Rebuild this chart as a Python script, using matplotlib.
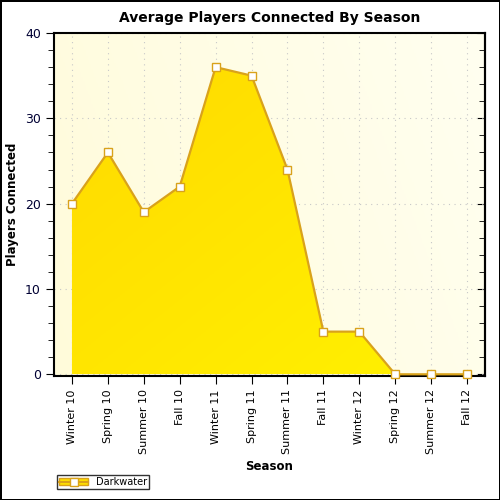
# %% Import modules
import numpy as np
import matplotlib.pyplot as plt
from matplotlib.colors import LinearSegmentedColormap
from matplotlib.lines import Line2D
from matplotlib.patches import Patch

# %% Data
seasons = ['Winter 10', 'Spring 10', 'Summer 10', 'Fall 10',
           'Winter 11', 'Spring 11', 'Summer 11', 'Fall 11',
           'Winter 12', 'Spring 12', 'Summer 12', 'Fall 12']
players = [20, 26, 19, 22, 36, 35, 24, 5, 5, 0, 0, 0]
series_name = 'Darkwater'

# %% Figure
fig = plt.figure(figsize=(5, 5), dpi=100)
fig.patch.set_edgecolor('black')
fig.patch.set_linewidth(2)
ax = fig.add_axes([0.108, 0.248, 0.862, 0.686])

x = np.arange(len(seasons))
ymin = -0.2
ax.set_xlim(-0.5, len(seasons) - 0.5)
ax.set_ylim(ymin, 40)

# background gradient
bg = LinearSegmentedColormap.from_list('bg', ['#FFFBDA', '#FFFFF0'])
grad = np.linspace(0, 1, 256).reshape(1, -1) + np.linspace(0, 0.3, 256).reshape(-1, 1)
ax.imshow(grad, cmap=bg, extent=[-0.5, len(seasons) - 0.5, ymin, 40],
          aspect='auto', zorder=0, origin='lower')

ax.grid(True, color='#C8C8C8', linestyle=(0, (1, 4)), linewidth=0.8, zorder=1)
ax.set_axisbelow(True)

# area fill with gradient
fill = ax.fill_between(x, players, 0, color='none', zorder=2)
fg = LinearSegmentedColormap.from_list('fg', ['#FFD800', '#FFF200'])
g2 = np.linspace(0, 1, 256).reshape(1, -1) + np.linspace(1, 0, 256).reshape(-1, 1)
im = ax.imshow(g2, cmap=fg, extent=[-0.5, len(seasons) - 0.5, 0, 40],
               aspect='auto', zorder=2, origin='lower')
im.set_clip_path(fill.get_paths()[0], transform=ax.transData)
ax.plot(x, players, color='#D9A21B', linewidth=1.6, zorder=6, clip_on=False,
        marker='s', markersize=5.5, markerfacecolor='white',
        markeredgecolor='#D9A21B', markeredgewidth=1.0)

ax.set_xticks(x)
ax.set_xticklabels(seasons, rotation=90, fontsize=8)
ax.set_yticks([0, 10, 20, 30, 40])
ax.set_yticks(np.arange(0, 41, 2), minor=True)
ax.tick_params(axis='y', labelsize=9, labelcolor='#000033', length=6)
ax.tick_params(axis='y', which='minor', length=4)
ax.tick_params(axis='x', length=6)
ax.tick_params(axis='y', which='both', direction='out', right=False)

# inward ticks on the right spine
axr = ax.secondary_yaxis('right')
axr.set_yticks([0, 10, 20, 30, 40])
axr.set_yticks(np.arange(0, 41, 2), minor=True)
axr.tick_params(axis='y', which='both', direction='in', labelright=False)
axr.tick_params(axis='y', which='major', length=6)
axr.tick_params(axis='y', which='minor', length=4)

for s in ax.spines.values():
    s.set_linewidth(1.5)
    s.set_zorder(5)
axr.spines['right'].set_linewidth(1.5)

ax.set_xlabel('Season', fontsize=8.5, fontweight='bold')
ax.set_ylabel('Players Connected', fontsize=8.5, fontweight='bold')
ax.set_title('Average Players Connected By Season', fontsize=10,
             fontweight='bold', pad=8)

# legend
handle = (Patch(facecolor='#FFE000', edgecolor='#D9A21B'),
          Line2D([], [], color='#D9A21B', marker='s', markerfacecolor='white',
                 markeredgecolor='#D9A21B', markersize=6))
leg = fig.legend([handle], [series_name], loc='lower left',
                 bbox_to_anchor=(0.105, 0.012), fontsize=7, frameon=True,
                 fancybox=False, edgecolor='black', handlelength=3,
                 borderpad=0.2)
leg.get_frame().set_linewidth(1)

fig.savefig('out.png', dpi=100, edgecolor='black')
